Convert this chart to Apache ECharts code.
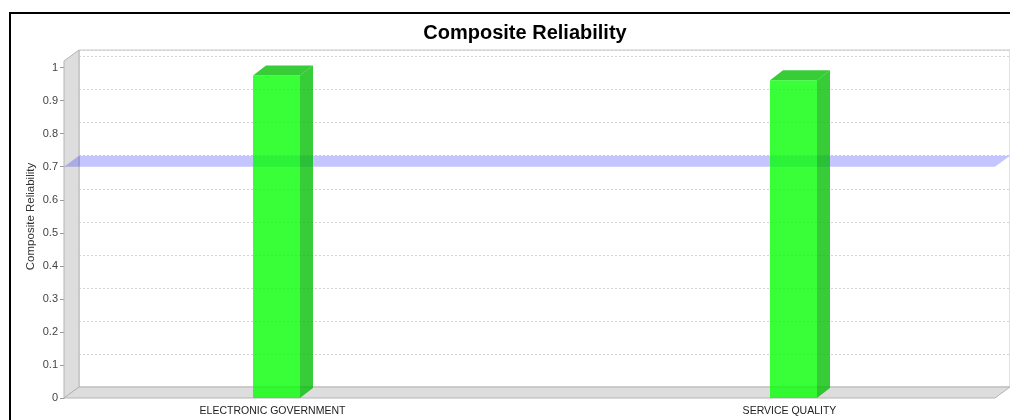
<!DOCTYPE html>
<html>
<head>
<meta charset="utf-8">
<script src="https://cdn.jsdelivr.net/npm/echarts@6/dist/echarts.min.js"></script>
<style>
html, body { margin: 0; padding: 0; background: #fff; }
#chart { width: 1010px; height: 420px; }
</style>
</head>
<body>
<div id="chart"></div>
<script>
// data
const categories = ['ELECTRONIC GOVERNMENT', 'SERVICE QUALITY']
const reliability = [0.976, 0.962]
const threshold = [0.7]
const yTicks = [0, 0.1, 0.2, 0.3, 0.4, 0.5, 0.6, 0.7, 0.8, 0.9, 1]

const WALL_DX = 15, WALL_DY = 11 // 3d depth of the walls
const BAR_DX = 13, BAR_DY = 10, BAR_W = 47
const Y_MAX = 1.02

const chart = echarts.init(document.getElementById('chart'))

function renderWalls(params, api) {
  const r = params.coordSys
  const L = r.x, T = r.y, R = r.x + r.width, B = r.y + r.height
  const st = { fill: '#dddddd', stroke: '#b4b4b4', lineWidth: 1 }
  return {
    type: 'group',
    children: [
      { type: 'polygon', shape: { points: [[L, B], [L, T], [L + WALL_DX, T - WALL_DY], [L + WALL_DX, B - WALL_DY]] }, style: st },
      { type: 'polygon', shape: { points: [[L, B], [R, B], [R + WALL_DX, B - WALL_DY], [L + WALL_DX, B - WALL_DY]] }, style: st }
    ]
  }
}

function renderBand(params, api) {
  const r = params.coordSys
  const L = r.x, R = r.x + r.width
  const y = api.coord([0, api.value(1)])[1]
  return {
    type: 'polygon',
    shape: { points: [[L, y], [L + WALL_DX, y - WALL_DY], [R + WALL_DX, y - WALL_DY], [R, y]] },
    style: { fill: 'rgba(0,0,255,0.23)' }
  }
}

function renderBar(params, api) {
  const base = api.coord([api.value(0), 0])
  const top = api.coord([api.value(0), api.value(1)])
  const x0 = base[0] - BAR_W / 2, x1 = base[0] + BAR_W / 2
  const yb = base[1], yt = top[1]
  const dark = 'rgba(0,190,0,0.78)'
  return {
    type: 'group',
    children: [
      { type: 'polygon', shape: { points: [[x1, yb], [x1, yt], [x1 + BAR_DX, yt - BAR_DY], [x1 + BAR_DX, yb - BAR_DY]] }, style: { fill: dark } },
      { type: 'polygon', shape: { points: [[x0, yt], [x0 + BAR_DX, yt - BAR_DY], [x1 + BAR_DX, yt - BAR_DY], [x1, yt]] }, style: { fill: dark } },
      { type: 'rect', shape: { x: x0, y: yt, width: BAR_W, height: yb - yt }, style: { fill: 'rgba(0,255,0,0.78)' } }
    ]
  }
}

const option = {
  animation: false,
  title: {
    text: 'Composite Reliability',
    left: 520,
    textAlign: 'center',
    top: 18,
    textStyle: { fontFamily: 'Liberation Sans', fontWeight: 'bold', fontSize: 20, color: '#000' }
  },
  graphic: [{
    type: 'rect',
    shape: { x: 10, y: 13, width: 1100, height: 500 },
    style: { fill: 'none', stroke: '#000', lineWidth: 2 },
    z: 100
  }],
  grid: [
    // front frame
    { left: 64, right: 15, top: 61, bottom: 22, outerBoundsMode: 'none' },
    // back wall
    { left: 79, right: 0, top: 50, bottom: 33, outerBoundsMode: 'none', show: true, borderColor: '#c4c4c4', borderWidth: 1, backgroundColor: '#fff' },
    // category placement (wider than the canvas)
    { left: 18, width: 1034, top: 61, bottom: 22, outerBoundsMode: 'none' }
  ],
  xAxis: [
    { gridIndex: 0, type: 'category', data: categories, show: false },
    { gridIndex: 1, type: 'category', data: categories, show: false },
    {
      gridIndex: 2, type: 'category', data: categories,
      axisLine: { show: false }, axisTick: { show: false },
      axisLabel: { margin: 8, padding: [0, 8, 0, 0], fontFamily: 'Liberation Sans', fontSize: 10.5, color: '#222' }
    }
  ],
  yAxis: [
    {
      gridIndex: 0, type: 'value', min: 0, max: Y_MAX,
      name: 'Composite Reliability', nameLocation: 'middle', nameGap: 27, nameMoveOverlap: false,
      nameTextStyle: { fontFamily: 'Liberation Sans', fontSize: 11.5, color: '#333', padding: [0, 0, 0, 26] },
      axisLine: { show: true, lineStyle: { color: '#999' } },
      axisTick: { show: true, length: 4, lineStyle: { color: '#999' }, customValues: yTicks },
      axisLabel: { margin: 6, fontFamily: 'Liberation Sans', fontSize: 11, color: '#444', customValues: yTicks },
      splitLine: { show: false }
    },
    {
      gridIndex: 1, type: 'value', min: 0, max: Y_MAX, interval: 0.1,
      axisLine: { show: false }, axisTick: { show: false }, axisLabel: { show: false },
      splitLine: { show: true, lineStyle: { color: '#d4d4d4', type: [2, 2], width: 1 } }
    },
    { gridIndex: 2, type: 'value', min: 0, max: Y_MAX, show: false }
  ],
  series: [
    {
      type: 'custom', xAxisIndex: 0, yAxisIndex: 0, z: 1, silent: true,
      renderItem: renderWalls, data: [[0, 0]]
    },
    {
      type: 'custom', xAxisIndex: 0, yAxisIndex: 0, z: 2, silent: true,
      renderItem: renderBand, data: threshold.map(v => [0, v])
    },
    {
      type: 'custom', xAxisIndex: 2, yAxisIndex: 2, z: 3,
      renderItem: renderBar, data: reliability.map((v, i) => [i, v])
    }
  ]
}

chart.setOption(option)
</script>
</body>
</html>
